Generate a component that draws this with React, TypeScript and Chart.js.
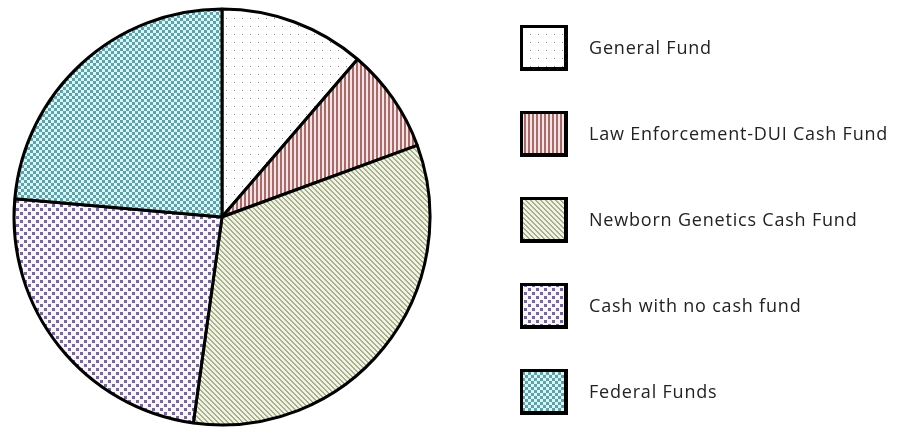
import React, { useEffect, useRef } from "react";
import { Chart, registerables } from "chart.js";

Chart.register(...registerables);

const labels = [
  "General Fund",
  "Law Enforcement-DUI Cash Fund",
  "Newborn Genetics Cash Fund",
  "Cash with no cash fund",
  "Federal Funds",
];
const values = [11.3, 8.1, 32.8, 24.2, 23.6];

type Tile = (c: CanvasRenderingContext2D) => void;

function makePattern(ctx: CanvasRenderingContext2D, w: number, h: number, draw: Tile): CanvasPattern {
  const t = document.createElement("canvas");
  t.width = w;
  t.height = h;
  const c = t.getContext("2d")!;
  draw(c);
  return ctx.createPattern(t, "repeat")!;
}

function buildPatterns(ctx: CanvasRenderingContext2D): CanvasPattern[] {
  const general = makePattern(ctx, 8, 8, (c) => {
    c.fillStyle = "#ffffff";
    c.fillRect(0, 0, 8, 8);
    c.fillStyle = "#8a8a8a";
    c.fillRect(2, 2, 1, 1);
  });
  const law = makePattern(ctx, 4, 4, (c) => {
    c.fillStyle = "#f6e2e2";
    c.fillRect(0, 0, 4, 4);
    c.fillStyle = "#a56c6c";
    c.fillRect(0, 0, 2, 4);
  });
  const newborn = makePattern(ctx, 5, 5, (c) => {
    c.fillStyle = "#f0f4e0";
    c.fillRect(0, 0, 5, 5);
    c.fillStyle = "#a8ae92";
    for (let i = 0; i < 5; i++) {
      c.fillRect(i, i, 1, 1);
      c.fillRect((i + 1) % 5, i, 1, 1);
    }
  });
  const cash = makePattern(ctx, 8, 8, (c) => {
    c.fillStyle = "#f8f5fb";
    c.fillRect(0, 0, 8, 8);
    c.fillStyle = "#76698f";
    c.fillRect(0, 0, 3, 3);
    c.fillRect(4, 4, 3, 3);
  });
  const federal = makePattern(ctx, 6, 6, (c) => {
    c.fillStyle = "#d2fafa";
    c.fillRect(0, 0, 6, 6);
    c.fillStyle = "#66a0a6";
    c.fillRect(0, 0, 3, 3);
    c.fillRect(3, 3, 3, 3);
  });
  return [general, law, newborn, cash, federal];
}

const legendPlugin = {
  id: "patternLegend",
  afterDraw(chart: any) {
    const ctx: any = chart.ctx;
    const ds = chart.data.datasets[0];
    const bx = 520;
    const by = 25;
    const step = 86;
    const bw = 47;
    const bh = 45;
    ctx.save();
    chart.data.labels.forEach((lab: string, i: number) => {
      const y = by + step * i;
      ctx.fillStyle = ds.backgroundColor[i];
      ctx.fillRect(bx, y, bw, bh);
      ctx.strokeStyle = "#000";
      ctx.lineWidth = 3;
      ctx.strokeRect(bx + 1.5, y + 1.5, bw - 3, bh - 3);
      ctx.fillStyle = "#000";
      ctx.fillRect(bx, y + bh - 1, bw + 1, 2);
      ctx.fillRect(bx + bw - 1, y, 2, bh + 1);
      ctx.fillStyle = "#222";
      ctx.font = "18px 'Open Sans', sans-serif";
      ctx.letterSpacing = "0.8px";
      ctx.textBaseline = "middle";
      ctx.textAlign = "left";
      ctx.fillText(lab, 589, y + bh / 2 + 1);
    });
    ctx.restore();
  },
};

export default function App() {
  const ref = useRef<HTMLCanvasElement | null>(null);
  useEffect(() => {
    document.body.style.margin = "0";
    document.body.style.overflow = "hidden";
    const canvas = ref.current!;
    const ctx = canvas.getContext("2d")!;
    const patterns = buildPatterns(ctx);
    const chart = new Chart(canvas, {
      type: "pie",
      data: {
        labels,
        datasets: [
          {
            data: values,
            backgroundColor: patterns as any,
            borderColor: "#000",
            borderWidth: 3,
            hoverBorderWidth: 3,
          },
        ],
      },
      options: {
        responsive: false,
        animation: false,
        events: [],
        layout: { padding: { left: 12.5, top: 7.5, right: 466.5, bottom: 1.5 } },
        plugins: {
          legend: { display: false },
          tooltip: { enabled: false },
        },
      },
      plugins: [legendPlugin],
    });
    return () => chart.destroy();
  }, []);
  return (
    <div style={{ width: 898, height: 428, background: "#fff" }}>
      <canvas ref={ref} width={898} height={428} style={{ display: "block", width: 898, height: 428 }} />
    </div>
  );
}
